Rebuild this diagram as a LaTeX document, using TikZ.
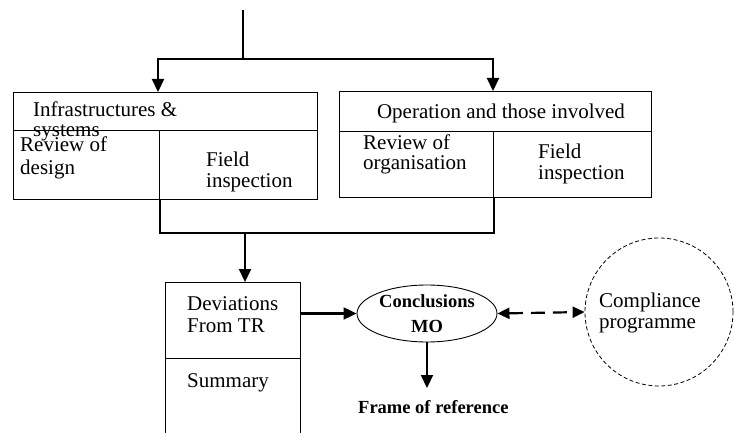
\documentclass[tikz,border=0pt]{standalone}
\usepackage{fontspec}
\setmainfont{Liberation Serif}
\usepackage{tikz}
\usetikzlibrary{arrows.meta,shapes}
\tikzstyle{cell}=[draw, rectangle, line width=0.9pt, inner sep=0pt, outer sep=0pt]
\tikzstyle{txt}=[anchor=base west, inner sep=0pt, align=left, font=\fontsize{21}{21}\selectfont]
\tikzstyle{flowline}=[line width=2.2pt]
\tikzstyle{flow}=[line width=2.2pt, -{Triangle[length=13pt,width=12pt]}]
\tikzstyle{dflow}=[line width=2.2pt, dash pattern=on 14pt off 8pt, {Triangle[length=12pt,width=11pt]}-{Triangle[length=12pt,width=11pt]}]
\begin{document}
\begin{tikzpicture}[x=1pt,y=-1pt]
      \useasboundingbox (0,0) rectangle (734,433);
      \clip (0,0) rectangle (734,433);
      % infrastructures block
      \node(infraH) [cell, minimum width=304pt, minimum height=38pt] at (165,111){};
      \node(designC) [cell, minimum width=146pt, minimum height=69pt] at (86,164.5){};
      \node(fieldLC) [cell, minimum width=158pt, minimum height=69pt] at (238,164.5){};
      \node(infraT) [txt, font=\fontsize{21}{20}\selectfont] at (33,137){Infrastructures \&\\systems};
      \node(designT) [txt, font=\fontsize{21}{23}\selectfont] at (20,175){Review of\\design};
      \node(fieldLT) [txt] at (206,188){Field\\inspection};
      % operation block
      \node(operH) [cell, minimum width=312pt, minimum height=40pt] at (495,111){};
      \node(orgC) [cell, minimum width=154pt, minimum height=66pt] at (416,164){};
      \node(fieldRC) [cell, minimum width=158pt, minimum height=66pt] at (572,164){};
      \node(operT) [txt, anchor=base] at (501,119){Operation and those involved};
      \node(orgT) [txt, font=\fontsize{21}{20}\selectfont] at (363,170){Review of\\organisation};
      \node(fieldRT) [txt] at (538,180){Field\\inspection};
      % deviations / summary
      \node(devC) [cell, minimum width=135pt, minimum height=76pt] at (232.5,320){};
      \node(sumC) [cell, minimum width=135pt, minimum height=90pt] at (232.5,403){};
      \node(devT) [txt, font=\fontsize{21}{22}\selectfont] at (187,332){Deviations\\From TR};
      \node(sumT) [txt] at (187,387){Summary};
      % conclusions, compliance
      \node(concl) [ellipse, draw, line width=0.9pt, minimum width=140pt, minimum height=57pt, inner sep=0pt, align=center, font=\bfseries\fontsize{18.5}{25}\selectfont] at (427,313.5){Conclusions\\MO};
      \node(frame) [txt, font=\bfseries\fontsize{18.5}{19}\selectfont] at (358,413){Frame of reference};
      \node(comp) [circle, draw, dash pattern=on 4pt off 2.5pt, line width=0.8pt, minimum size=148pt, inner sep=0pt] at (659,312){};
      \node(compT) [txt] at (599,328){Compliance\\programme};
      % junctions
      \coordinate(top) at (243,10);
      \coordinate(split) at (243,59);
      \coordinate(inL) at (158,92);
      \coordinate(inR) at (493,91);
      \coordinate(outL) at (160,199);
      \coordinate(outR) at (494,197);
      \coordinate(merge) at (245,233);
      \coordinate(frameIn) at (428,388);
      \draw[flowline] (top) -- (split);
      \draw[flow] (split) -| (inL);
      \draw[flow] (split) -| (inR);
      \draw[flowline] (outL) |- (merge) -| (outR);
      \draw[flow] (merge) -- (merge |- devC.north);
      \draw[flow] (devC.east |- concl.west) -- (concl.west);
      \draw[flow] (concl.south) -- (concl.south |- frameIn);
      \draw[dflow] (concl.east) -- (comp.west);
    \end{tikzpicture}
\end{document}
